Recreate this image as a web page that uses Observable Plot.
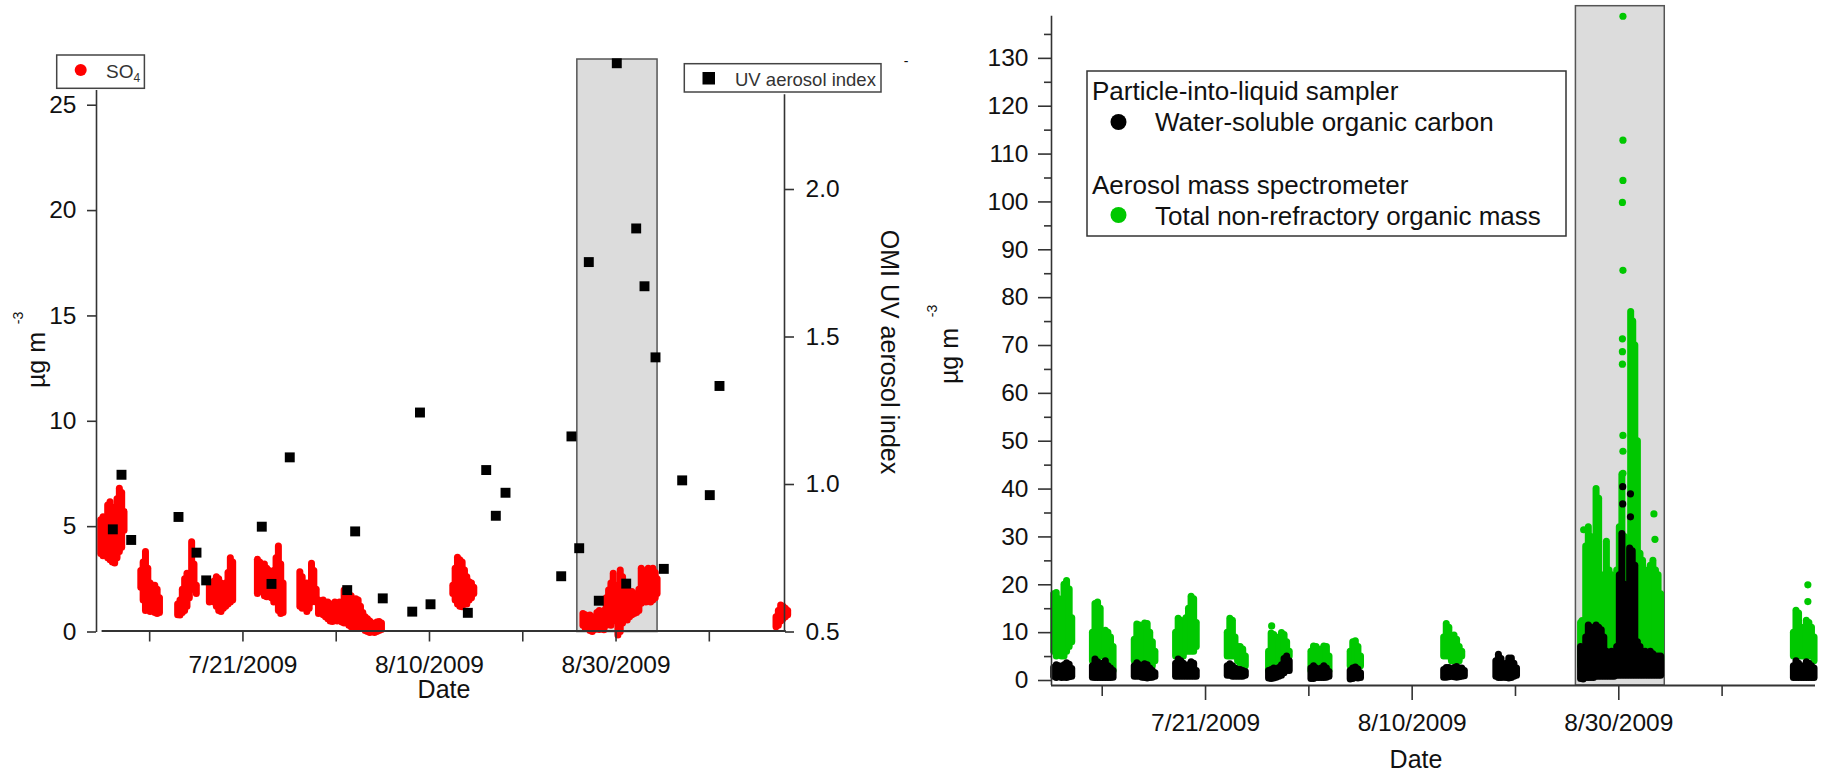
<!DOCTYPE html>
<html><head><meta charset="utf-8">
<script src="https://cdn.jsdelivr.net/npm/d3@7"></script>
<script src="https://cdn.jsdelivr.net/npm/@observablehq/plot@0.6"></script>
<style>
html,body{margin:0;padding:0;background:#fff;}
#wrap{position:relative;width:1824px;height:772px;overflow:hidden;background:#fff;}
#wrap svg{position:absolute;top:0;}
</style></head><body><div id="wrap"></div>
<script>
// ---------- DATA (days counted from July 1 2009 = 1) ----------
const tickDays = [11, 21, 31, 41, 51, 61, 71];
const labelDays = [21, 41, 61];
const shadeDays = [56.85, 65.45];
const leftTicks = [0, 5, 10, 15, 20, 25];
const uvTicks = [0.5, 1.0, 1.5, 2.0];
const rightMajor = [0,10,20,30,40,50,60,70,80,90,100,110,120,130];
const rightMinor = [5,15,25,35,45,55,65,75,85,95,105,115,125,135];

// OMI UV aerosol index (daily overpass)
const uvDay = [7.05,7.98,9.02,14.09,16.02,17.06,23.02,24.06,26.02,32.18,33.03,35.99,39.15,39.98,41.11,45.11,47.08,48.11,49.15,55.12,56.22,57.05,58.08,59.15,61.08,62.09,63.16,64.05,65.23,66.12,68.09,71.05,72.09];
const uvIndex = [0.848,1.033,0.812,0.890,0.769,0.675,0.857,0.663,1.092,0.642,0.841,0.614,0.569,1.244,0.594,0.565,1.049,0.894,0.972,0.689,1.163,0.784,1.754,0.606,2.428,0.664,1.868,1.672,1.431,0.714,1.014,0.964,1.334];

// SO4 (µg m-3): [day, low, high] per 6-hour interval
const so4 = [
 [5.75,3.7,5.3],[6.0,3.6,5.45],[6.25,3.7,5.2],[6.5,3.5,6.0],[6.75,3.4,6.16],[7.0,3.3,5.9],[7.25,3.25,5.6],[7.5,3.5,6.3],[7.75,3.8,6.8],[8.0,4.0,6.6],[8.25,4.8,5.7],
 [10.05,2.1,2.9],[10.3,1.5,3.3],[10.55,1.0,3.8],[10.8,1.1,3.0],[11.05,0.95,2.3],[11.3,1.0,2.0],[11.55,0.9,2.2],[11.8,0.86,2.0],[12.05,0.9,1.6],
 [14.0,0.8,1.3],[14.25,0.78,1.5],[14.5,0.9,2.0],[14.75,1.0,2.5],[15.0,1.2,2.76],[15.25,1.6,2.6],[15.5,2.0,4.26],[15.75,2.0,3.2],[16.0,1.8,2.2],
 [17.4,1.4,2.2],[17.65,1.5,2.0],[17.9,1.4,2.4],[18.15,1.2,2.6],[18.4,1.0,2.5],[18.65,0.95,2.3],[18.9,1.1,2.2],[19.15,1.2,2.3],[19.4,1.3,2.8],[19.65,1.4,3.5],[19.9,1.5,3.3],
 [22.55,1.8,3.43],[22.8,1.9,3.3],[23.05,2.0,2.9],[23.3,1.7,3.2],[23.55,1.65,3.0],[23.8,1.8,2.9],[24.05,1.6,2.7],[24.3,1.4,2.9],[24.55,1.5,3.5],[24.8,1.0,4.06],[25.05,0.86,3.2],[25.3,0.9,2.3],
 [27.1,1.2,2.84],[27.35,1.1,2.6],[27.6,1.3,2.0],[27.85,0.95,2.3],[28.1,1.1,2.2],[28.35,1.4,3.24],[28.6,1.6,2.9],[28.85,1.4,2.0],
 [29.1,0.86,1.5],[29.35,0.9,1.4],[29.6,0.8,1.5],[29.85,0.7,1.3],[30.1,0.6,1.4],[30.35,0.5,1.3],[30.6,0.47,1.2],[30.85,0.6,1.4],[31.1,0.5,1.3],[31.35,0.55,1.4],[31.6,0.45,1.2],[31.85,0.4,1.97],[32.1,0.5,1.8],[32.35,0.3,1.5],[32.6,0.23,1.7],[32.85,0.3,1.4],[33.1,0.15,1.55],[33.35,0.2,1.5],[33.6,0.25,1.2],[33.85,0.2,0.9],[34.1,0.05,0.7],[34.35,0.0,0.6],[34.6,-0.05,0.5],[34.85,0.0,0.4],[35.1,-0.05,0.3],[35.35,0.0,0.45],[35.6,0.05,0.47],[35.85,0.1,0.4],
 [43.5,1.8,2.2],[43.75,1.5,3.0],[44.0,1.3,3.52],[44.25,1.2,3.4],[44.5,1.18,3.3],[44.75,1.3,2.92],[45.0,1.3,2.6],[45.25,1.5,2.36],[45.5,1.6,2.3],[45.75,1.8,2.1],
 [57.45,0.3,0.86],[57.7,0.15,0.8],[57.95,0.2,0.6],[58.2,0.05,0.78],[58.45,0.0,0.6],[58.7,0.1,0.7],[58.95,0.2,0.9],[59.2,0.1,1.0],[59.45,0.3,0.9],[59.7,0.08,1.0],[59.95,0.3,1.6],[60.2,0.4,1.97],[60.45,0.3,2.3],[60.7,0.5,2.76],[60.95,0.6,2.2],[61.2,-0.17,1.5],[61.45,0.0,2.92],[61.7,0.4,2.6],[61.95,0.6,2.2],[62.2,0.55,1.97],[62.45,0.7,1.8],[62.7,0.8,1.9],[62.95,0.86,1.8],[63.2,0.9,1.7],[63.45,1.0,2.0],[63.7,1.34,3.0],[63.95,1.5,2.6],[64.2,1.4,2.9],[64.45,1.6,3.0],[64.7,1.4,2.8],[64.95,1.5,3.0],[65.2,1.6,2.8],[65.4,1.8,2.5],
 [78.15,0.23,0.7],[78.4,0.3,1.0],[78.65,0.5,1.26],[78.9,0.6,1.2],[79.15,0.7,1.1],[79.4,0.8,1.0]
];

// Total non-refractory organic mass (AMS): [day, low, high]
const orgMass = [
 [6.30,6,18],[6.55,5,18.3],[6.80,6,17],[7.05,5,13],[7.30,5,20],[7.55,6,20.8],[7.80,7,19],[8.05,8,13],
 [10.05,4,10],[10.30,4,16],[10.55,4,16.3],[10.80,5,15],[11.05,5,9],[11.30,3,10.4],[11.55,2,10],[11.80,2,9],[12.05,2,7],
 [14.10,4,8.5],[14.35,4,11.7],[14.60,4,11.5],[14.85,5,9],[15.10,4,11.9],[15.35,3,11.8],[15.60,3,10],[15.85,3,8],[16.10,4,6],
 [18.10,5,10],[18.35,5,12.9],[18.60,5,12.5],[18.85,5,11],[19.10,6,13],[19.35,6,15],[19.60,6,17.5],[19.85,6,17],[20.10,7,12],
 [23.10,5,10],[23.35,5,12.9],[23.60,5,12.5],[23.85,5,9],[24.10,4,7],[24.35,3,7],[24.60,3,6.5],[24.85,3,5],
 [27.10,2,6],[27.35,2,9.8],[27.60,3,9.5],[27.85,3,8],[28.10,4,9],[28.35,5,9.9],[28.60,5,9.5],[28.85,5,8],[29.10,5,6],
 [31.20,2,6],[31.45,2,7.1],[31.70,2,7],[31.95,3,5],[32.20,3,6.5],[32.45,2,7.1],[32.70,2,7],[32.95,2,5],
 [35.00,3,6],[35.25,3,8],[35.50,3,8.2],[35.75,3,7],[36.00,3,5],
 [44.05,5,9],[44.30,5,11.8],[44.55,5,11],[44.80,4,9],[45.05,4,9.4],[45.30,4,8.5],[45.55,4,7],[45.80,5,6],
 [57.30,3,12],[57.55,3,10],[57.80,4,28],[58.05,5,32],[58.30,5,30],[58.55,5,26],[58.80,6,40],[59.05,6,38],[59.30,6,22],[59.55,5,21],[59.80,5,29],[60.05,5,23],[60.30,5,22],[60.55,5,20],[60.80,5,23],[61.05,6,32],[61.30,6,43],[61.55,6,30],[61.80,5,25],[62.15,6,77],[62.35,6,75],[62.55,6,70],[62.80,5,50],[63.05,4,26.5],[63.30,4,25],[63.55,4,23],[63.80,4,20],[64.05,4,24],[64.30,4,25],[64.55,4,23],[64.80,4,22],[65.05,4,18],
 [77.90,5,10],[78.15,5,14.6],[78.40,5,14],[78.65,5,11],[78.90,5,8],[79.15,5,12.5],[79.40,5,12],[79.65,5,11],[79.90,4,9]
];
const orgSingles = [[61.40,138.8],[61.40,112.9],[61.40,104.5],[61.35,99.9],[61.40,85.7],[61.35,71.4],[61.35,68.7],[61.35,66.1],[61.40,51.2],[61.40,47.9],[61.40,43.3],[64.40,34.8],[64.50,29.5],[57.60,31.5],[57.45,12.5],[79.30,20.0],[79.30,16.5],[27.40,11.4]];

// Water-soluble organic carbon (PILS): [day, low, high]
const wsoc = [
 [6.30,0.8,2.6],[6.55,0.5,3.2],[6.80,0.8,3.0],[7.05,0.5,2.5],[7.30,0.6,3.2],[7.55,0.5,3.6],[7.80,0.7,3.3],[8.05,0.8,2.4],
 [10.05,0.6,3.0],[10.30,0.5,4.4],[10.55,0.5,3.8],[10.80,0.5,3.0],[11.05,0.5,3.5],[11.30,0.5,4.0],[11.55,0.5,3.0],[11.80,0.5,2.5],[12.05,0.6,2.0],
 [14.10,0.8,3.0],[14.35,0.8,3.6],[14.60,0.8,3.2],[14.85,0.6,2.5],[15.10,0.5,3.4],[15.35,0.4,3.2],[15.60,0.5,2.5],[15.85,0.6,2.0],[16.10,0.8,1.5],
 [18.10,0.8,3.5],[18.35,0.8,4.4],[18.60,0.8,4.0],[18.85,0.8,3.5],[19.10,0.8,3.0],[19.35,0.8,3.2],[19.60,0.8,3.8],[19.85,0.8,3.5],[20.10,0.8,2.0],
 [23.10,1.0,3.0],[23.35,1.0,3.4],[23.60,0.8,3.0],[23.85,0.8,2.5],[24.10,0.8,2.2],[24.35,0.8,2.2],[24.60,0.8,2.0],[24.85,1.0,1.8],
 [27.10,0.4,2.0],[27.35,0.3,2.2],[27.60,0.4,2.5],[27.85,0.6,2.2],[28.10,0.8,2.6],[28.35,1.0,3.2],[28.60,1.5,4.5],[28.85,2.0,5.0],[29.10,2.0,4.0],
 [31.20,0.3,2.5],[31.45,0.3,3.0],[31.70,0.5,2.5],[31.95,0.5,2.0],[32.20,0.5,2.5],[32.45,0.5,3.0],[32.70,0.6,2.5],[32.95,0.8,1.8],
 [35.00,0.2,2.0],[35.25,0.3,2.5],[35.50,0.5,2.7],[35.75,0.4,2.3],[36.00,0.5,1.5],
 [44.05,0.6,2.2],[44.30,0.6,2.6],[44.55,0.7,2.6],[44.80,0.8,2.2],[45.05,0.7,2.6],[45.30,0.6,2.8],[45.55,0.7,2.5],[45.80,0.8,2.5],[46.05,0.9,2.0],
 [49.10,0.8,4.0],[49.35,0.5,5.4],[49.60,0.5,4.5],[49.85,0.6,3.0],[50.10,0.5,3.5],[50.35,0.4,4.6],[50.60,0.5,4.6],[50.85,0.8,3.5],[51.10,1.0,2.5],
 [57.30,0.3,7],[57.55,0.2,6],[57.80,0.5,9],[58.05,0.5,11.5],[58.30,0.5,11],[58.55,0.5,10],[58.80,0.8,11.5],[59.05,0.8,11],[59.30,0.8,10.5],[59.55,0.8,9],[59.80,0.8,6],[60.05,0.8,5],[60.30,0.8,6],[60.55,0.8,5],[60.80,1,7],[61.05,1,22],[61.30,1,30.6],[61.55,1,20],[61.80,1,10],[62.05,1,27.6],[62.30,1,27],[62.55,1,24],[62.80,1,8],[63.05,1,7],[63.30,1,6],[63.55,1,6],[63.80,1,5],[64.05,1,6],[64.30,1,5.5],[64.55,1,5],[64.80,1,5],[65.05,1,5],
 [77.90,0.5,3.0],[78.15,0.5,4.0],[78.40,0.5,3.5],[78.65,0.5,2.5],[78.90,0.5,3.0],[79.15,0.5,3.8],[79.40,0.5,3.5],[79.65,0.5,3.0],[79.90,0.5,2.5]
];
const wsocSingles = [[61.38,40.5],[62.13,39.0],[61.38,36.9],[62.13,34.2]];

// ---------- HELPERS ----------
const DAY0 = Date.UTC(2009, 6, 1);
const day = d => new Date(DAY0 + (d - 1) * 864e5);
const fmt = d => `${d.getUTCMonth() + 1}/${d.getUTCDate()}/${d.getUTCFullYear()}`;
const labelSet = new Set(labelDays.map(k => +day(k)));
const dateLabel = d => labelSet.has(+d) ? fmt(d) : "";
const uvToLeft = u => (u - 0.5) * 14.0;           // secondary axis mapping onto the µg m-3 axis
const uvLabel = new Map(uvTicks.map(u => [uvToLeft(u), u.toFixed(1)]));

const FONT = "'Liberation Sans', Arial, Helvetica, sans-serif";
const AX = "#333";
const baseStyle = {fontFamily: FONT, fontSize: "24.5px", color: "#111", background: "transparent", overflow: "visible"};
const wrap = document.getElementById("wrap");

// ---------- LEFT PANEL ----------
const LX0 = 5.3, LX1 = 79.06;
const left = Plot.plot({
  width: 930, height: 772,
  marginLeft: 96, marginRight: 146, marginTop: 59, marginBottom: 140.5,
  x: {type: "utc", domain: [day(LX0), day(LX1)]},
  y: {domain: [0, 27.17]},
  style: baseStyle,
  marks: [
    Plot.rect([shadeDays], {x1: s => day(s[0]), x2: s => day(s[1]), y1: () => 0, y2: () => 27.17, fill: "#dcdcdc", stroke: "#555", strokeWidth: 1.5}),
    Plot.ruleX(so4, {x: r => day(r[0]), y1: r => r[1], y2: r => r[2], stroke: "#ff0000", strokeWidth: 7, strokeLinecap: "round"}),
    Plot.dot(uvDay, {x: d => day(d), y: (d, i) => uvToLeft(uvIndex[i]), symbol: "square", r: 5.6, fill: "#000", stroke: null}),
    Plot.ruleX([day(LX0)], {y1: () => -0.02, y2: () => 25.7, stroke: AX, strokeWidth: 1.6}),
    Plot.ruleX([day(LX1)], {y1: () => -0.02, y2: () => 25.5, stroke: AX, strokeWidth: 1.6}),
    Plot.ruleY([0.047], {x1: () => day(5.9), x2: () => day(79.25), stroke: AX, strokeWidth: 1.8}),
    Plot.axisX({ticks: tickDays.map(day), tickFormat: dateLabel, tickSize: 10, tickPadding: 14, stroke: AX, strokeWidth: 1.6, fill: "#111", label: null}),
    Plot.axisY({ticks: leftTicks, tickFormat: d => String(d), tickSize: 9, tickPadding: 11, stroke: AX, strokeWidth: 1.6, fill: "#111", label: null}),
    Plot.axisY({anchor: "right", ticks: uvTicks.map(uvToLeft), tickFormat: v => uvLabel.get(v), tickSize: 9, tickPadding: 12, stroke: AX, strokeWidth: 1.6, fill: "#111", label: null})
  ]
});
left.style.left = "0px";
wrap.appendChild(left);

// ---------- RIGHT PANEL ----------
const RX0 = 6.09, RX1 = 80.04, RY0 = -1.045, RY1 = 140.9;
const right = Plot.plot({
  width: 894, height: 772,
  marginLeft: 121, marginRight: 9, marginTop: 5.7, marginBottom: 87,
  x: {type: "utc", domain: [day(RX0), day(RX1)]},
  y: {domain: [RY0, RY1]},
  style: baseStyle,
  marks: [
    Plot.rect([shadeDays], {x1: s => day(s[0]), x2: s => day(s[1]), y1: () => RY0, y2: () => RY1, fill: "#dcdcdc", stroke: "#555", strokeWidth: 1.5}),
    Plot.ruleX(orgMass, {x: r => day(r[0]), y1: r => r[1], y2: r => r[2], stroke: "#00c800", strokeWidth: 7, strokeLinecap: "round"}),
    Plot.dot(orgSingles, {x: r => day(r[0]), y: r => r[1], r: 3.6, fill: "#00c800", stroke: null}),
    Plot.ruleX(wsoc, {x: r => day(r[0]), y1: r => r[1], y2: r => r[2], stroke: "#000", strokeWidth: 7, strokeLinecap: "round"}),
    Plot.dot(wsocSingles, {x: r => day(r[0]), y: r => r[1], r: 3.6, fill: "#000", stroke: null}),
    Plot.ruleX([day(RX0)], {y1: () => RY0, y2: () => 138.8, stroke: AX, strokeWidth: 1.6}),
    Plot.ruleY([RY0], {x1: () => day(RX0), x2: () => day(RX1), stroke: AX, strokeWidth: 1.8}),
    Plot.axisX({ticks: labelDays.map(day), tickFormat: fmt, tickSize: 15, tickPadding: 13, stroke: AX, strokeWidth: 1.6, fill: "#111", label: null}),
    Plot.axisX({ticks: tickDays.filter(k => !labelDays.includes(k)).map(day), tickFormat: () => "", tickSize: 11, stroke: AX, strokeWidth: 1.6, label: null}),
    Plot.axisY({ticks: rightMajor, tickFormat: d => String(d), tickSize: 13, tickPadding: 10, stroke: AX, strokeWidth: 1.6, fill: "#111", label: null}),
    Plot.axisY({ticks: rightMinor, tickFormat: () => "", tickSize: 7, stroke: AX, strokeWidth: 1.6, label: null})
  ]
});
right.style.left = "930px";
wrap.appendChild(right);

// ---------- TITLES AND LEGENDS ----------
function txt(sel, s, o) {
  const t = sel.append("text").text(s)
    .attr("font-family", FONT).attr("font-size", o.size).attr("fill", o.fill || "#111")
    .attr("text-anchor", o.anchor || "start");
  if (o.rotate != null) t.attr("transform", `translate(${o.x},${o.y}) rotate(${o.rotate})`);
  else t.attr("x", o.x).attr("y", o.y);
  return t;
}
const L = d3.select(left), R = d3.select(right);

// left titles
txt(L, "Date", {x: 444, y: 698, size: 25, anchor: "middle"});
txt(L, "µg m", {x: 45, y: 360, size: 25, anchor: "middle", rotate: -90});
txt(L, "-3", {x: 23, y: 318, size: 14, anchor: "middle", rotate: -90});
txt(L, "OMI UV aerosol index", {x: 881, y: 352, size: 25, anchor: "middle", rotate: 90});
txt(L, "-", {x: 906, y: 66, size: 14, anchor: "middle"});

// SO4 legend
L.append("rect").attr("x", 56.7).attr("y", 55).attr("width", 87.7).attr("height", 33.3).attr("fill", "#fff").attr("stroke", "#444").attr("stroke-width", 1.5);
L.append("circle").attr("cx", 80.7).attr("cy", 70).attr("r", 6).attr("fill", "#ff0000");
const so4t = txt(L, "SO", {x: 106, y: 77.5, size: 19, fill: "#333"});
so4t.append("tspan").text("4").attr("font-size", 12).attr("dy", 4);

// UV legend
L.append("rect").attr("x", 684.3).attr("y", 63.7).attr("width", 196.7).attr("height", 28.3).attr("fill", "#fff").attr("stroke", "#444").attr("stroke-width", 1.5);
L.append("rect").attr("x", 702.5).attr("y", 72).attr("width", 12.5).attr("height", 12.5).attr("fill", "#000");
txt(L, "UV aerosol index", {x: 735, y: 85.5, size: 18.5, fill: "#333"});

// right titles (svg offset 930)
txt(R, "Date", {x: 486, y: 768, size: 25, anchor: "middle"});
txt(R, "µg m", {x: 28, y: 356, size: 25, anchor: "middle", rotate: -90});
txt(R, "-3", {x: 7, y: 311, size: 14, anchor: "middle", rotate: -90});

// right legend
const ox = 930;
R.append("rect").attr("x", 1087 - ox).attr("y", 71).attr("width", 479).attr("height", 165).attr("fill", "#fff").attr("stroke", "#333").attr("stroke-width", 1.5);
txt(R, "Particle-into-liquid sampler", {x: 1092 - ox, y: 99.5, size: 26});
R.append("circle").attr("cx", 1118.5 - ox).attr("cy", 122).attr("r", 8).attr("fill", "#000");
txt(R, "Water-soluble organic carbon", {x: 1155 - ox, y: 131, size: 26});
txt(R, "Aerosol mass spectrometer", {x: 1092 - ox, y: 194, size: 26});
R.append("circle").attr("cx", 1118.5 - ox).attr("cy", 215).attr("r", 8).attr("fill", "#00c800");
txt(R, "Total non-refractory organic mass", {x: 1155 - ox, y: 225, size: 26});
</script></body></html>
